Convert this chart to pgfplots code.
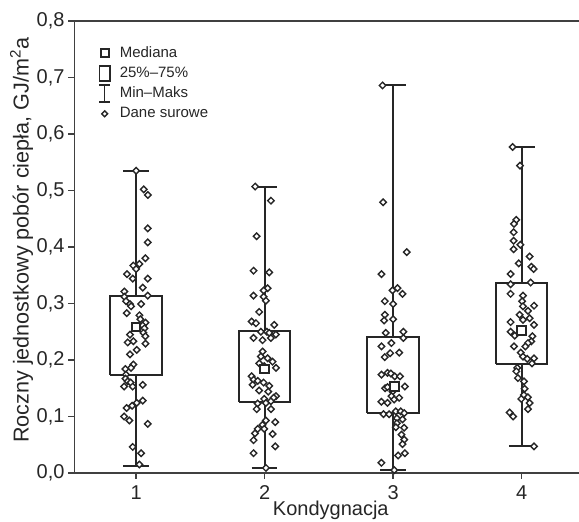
\documentclass[border=0pt]{standalone}
\usepackage{fontspec}
\setmainfont{Liberation Sans}
\usepackage{pgfplots}
\pgfplotsset{compat=1.18}
\definecolor{ink}{HTML}{262626}
\definecolor{axc}{HTML}{404040}
\begin{document}
\begin{tikzpicture}
\begin{axis}[
  name=ax,
  scale only axis,
  width=252.25pt, height=226pt,
  xmin=0.521, xmax=4.446,
  ymin=0, ymax=0.8,
  axis lines*=left,
  axis line style={axc, line width=0.8pt},
  clip=false,
  unbounded coords=jump,
  tick align=outside,
  major tick length=3pt,
  tick style={axc, line width=0.8pt},
  xtick={1,2,3,4},
  xticklabels={1,2,3,4},
  ytick={0,0.1,0.2,0.3,0.4,0.5,0.6,0.7,0.8},
  yticklabel style={xshift=1.5pt, /pgf/number format/.cd, fixed, fixed zerofill, precision=1, use comma, assume math mode=true},
  ticklabel style={font=\fontsize{10}{12}\selectfont, text=ink},
  xlabel={Kondygnacja},
  ylabel={Roczny jednostkowy pobór ciepła, GJ/m\textsuperscript{2}a},
  every axis x label/.style={at={(axis description cs:0.508,-0.0951)}, anchor=base, font=\fontsize{10}{12}\selectfont, text=ink},
  every axis y label/.style={at={(axis description cs:-0.1047,0.515)}, anchor=center, rotate=90, font=\fontsize{10.8}{13}\selectfont, text=ink},
  legend style={at={(axis description cs:0.035,0.958)}, anchor=north west, draw=none, fill=none, font=\fontsize{7.5}{9}\selectfont, row sep=1pt, column sep=3.5pt, text=ink, nodes={inner sep=1pt, text height=5.5pt, text depth=1.5pt}},
  legend cell align=left,
]
\addlegendimage{legend image code/.code={\draw[ink,line width=1pt,fill=white] (0.65pt,-2pt) rectangle (4.65pt,2pt);}}
\addlegendentry{Mediana}
\addlegendimage{legend image code/.code={\draw[ink,line width=0.8pt] (0pt,-3.7pt) rectangle (5.3pt,3.7pt);}}
\addlegendentry{25\%–75\%}
\addlegendimage{legend image code/.code={\draw[ink,line width=0.8pt] (2.65pt,-4.2pt) -- (2.65pt,4.2pt) (0pt,-4.2pt) -- (5.3pt,-4.2pt) (0pt,4.2pt)--(5.3pt,4.2pt);}}
\addlegendentry{Min–Maks}
\addlegendimage{legend image code/.code={\draw[ink,line width=0.7pt,fill=white] (2.65pt,1.45pt) -- (4.1pt,0pt) -- (2.65pt,-1.45pt) -- (1.2pt,0pt) -- cycle;}}
\addlegendentry{Dane surowe}

% boxes (quartiles) and whiskers (min-max)
\pgfplotsset{bx/.style={ink, line width=1pt, forget plot, mark=none, line join=miter}}
\addplot[bx] coordinates {(0.8,0.174)(1.2,0.174)(1.2,0.314)(0.8,0.314)(0.8,0.174)};
\addplot[bx] coordinates {(1,0.314)(1,0.535) (1,nan) (0.9,0.535)(1.1,0.535) (1,nan) (1,0.174)(1,0.013) (1,nan) (0.9,0.013)(1.1,0.013)};
\addplot[bx] coordinates {(1.8,0.125)(2.2,0.125)(2.2,0.252)(1.8,0.252)(1.8,0.125)};
\addplot[bx] coordinates {(2,0.252)(2,0.507) (2,nan) (1.9,0.507)(2.1,0.507) (2,nan) (2,0.125)(2,0.009) (2,nan) (1.9,0.009)(2.1,0.009)};
\addplot[bx] coordinates {(2.8,0.107)(3.2,0.107)(3.2,0.2405)(2.8,0.2405)(2.8,0.107)};
\addplot[bx] coordinates {(3,0.2405)(3,0.686) (3,nan) (2.9,0.686)(3.1,0.686) (3,nan) (3,0.107)(3,0.005) (3,nan) (2.9,0.005)(3.1,0.005)};
\addplot[bx] coordinates {(3.8,0.193)(4.2,0.193)(4.2,0.337)(3.8,0.337)(3.8,0.193)};
\addplot[bx] coordinates {(4,0.337)(4,0.577) (4,nan) (3.9,0.577)(4.1,0.577) (4,nan) (4,0.193)(4,0.047) (4,nan) (3.9,0.047)(4.1,0.047)};

% raw data
\pgfplotsset{raw/.style={only marks, forget plot, mark=square*, mark size=1.15pt, mark options={rotate=45, fill=white, draw=ink, line width=0.7pt}}}
\addplot[raw] coordinates {
(1.000,0.535)(1.060,0.502)(1.091,0.492)(1.091,0.433)(1.091,0.408)(1.073,0.380)(1.026,0.370)(0.979,0.367)(1.000,0.361)(0.930,0.352)
(0.974,0.344)(1.091,0.344)(1.052,0.328)(0.909,0.321)(1.091,0.314)(0.909,0.312)(0.922,0.304)(0.953,0.299)(1.039,0.299)(0.961,0.295)
(0.927,0.283)(1.026,0.279)(1.034,0.272)(1.073,0.266)(1.052,0.261)(1.065,0.256)(0.953,0.245)(1.057,0.248)(1.073,0.242)(1.073,0.229)
(0.935,0.231)(0.979,0.233)(1.005,0.218)(0.953,0.210)(0.979,0.192)(0.961,0.186)(0.917,0.184)(0.922,0.174)(0.917,0.167)(0.935,0.162)
(0.958,0.160)(0.907,0.153)(0.974,0.153)(1.052,0.156)(1.052,0.128)(1.005,0.124)(0.969,0.119)(0.927,0.115)(0.907,0.100)(0.948,0.093)
(1.091,0.087)(0.974,0.046)(1.039,0.035)(1.026,0.015)
};
\addplot[raw] coordinates {
(1.927,0.507)(2.049,0.482)(1.938,0.419)(1.914,0.358)(2.036,0.355)(2.023,0.327)(1.992,0.323)(1.914,0.314)(1.992,0.312)(2.010,0.305)
(1.958,0.285)(1.899,0.268)(1.933,0.265)(2.075,0.262)(1.971,0.250)(2.018,0.250)(2.036,0.248)(2.088,0.245)(2.049,0.239)(1.914,0.239)
(1.984,0.235)(1.984,0.215)(1.971,0.206)(2.023,0.203)(1.958,0.194)(2.062,0.197)(2.088,0.186)(1.997,0.189)(1.899,0.171)(1.914,0.165)
(1.946,0.163)(1.992,0.160)(2.036,0.154)(1.907,0.156)(1.958,0.146)(2.029,0.144)(2.088,0.136)(2.070,0.133)(1.997,0.131)(2.049,0.127)
(1.946,0.123)(1.938,0.113)(2.010,0.124)(2.049,0.113)(2.010,0.093)(1.984,0.085)(2.083,0.090)(1.946,0.078)(1.925,0.070)(1.997,0.078)
(1.914,0.058)(2.062,0.069)(2.083,0.047)(1.914,0.035)(2.010,0.009)
};
\addplot[raw] coordinates {
(2.918,0.686)(2.922,0.479)(3.106,0.391)(2.909,0.352)(2.995,0.323)(3.034,0.327)(3.073,0.317)(2.935,0.304)(3.000,0.299)(2.935,0.280)
(2.930,0.270)(3.000,0.272)(2.943,0.248)(3.080,0.250)(3.080,0.239)(2.909,0.224)(2.987,0.230)(2.935,0.205)(2.977,0.212)(3.047,0.213)
(2.909,0.174)(2.956,0.177)(2.982,0.176)(3.013,0.171)(3.054,0.171)(2.938,0.150)(2.956,0.152)(2.995,0.144)(3.091,0.153)(3.047,0.133)
(2.909,0.126)(2.956,0.124)(2.987,0.136)(3.008,0.130)(2.925,0.104)(2.969,0.104)(3.021,0.109)(3.060,0.109)(3.086,0.106)(3.029,0.097)
(3.073,0.095)(3.029,0.088)(3.086,0.080)(3.021,0.081)(3.065,0.068)(3.086,0.059)(3.073,0.051)(3.039,0.031)(3.091,0.035)(2.909,0.018)
(3.008,0.005)
};
\addplot[raw] coordinates {
(3.930,0.577)(3.987,0.544)(3.958,0.448)(3.940,0.441)(3.938,0.426)(3.938,0.411)(3.990,0.404)(3.938,0.396)(3.977,0.371)(4.062,0.383)
(4.075,0.365)(4.093,0.361)(3.914,0.352)(3.914,0.334)(4.070,0.337)(3.914,0.317)(4.010,0.314)(4.003,0.304)(4.096,0.296)(4.010,0.295)
(4.049,0.287)(3.984,0.280)(4.010,0.271)(4.062,0.274)(3.914,0.267)(4.096,0.262)(3.914,0.250)(3.946,0.243)(4.083,0.242)(4.075,0.233)
(4.049,0.230)(4.029,0.224)(3.940,0.224)(3.992,0.213)(4.010,0.206)(4.044,0.202)(4.096,0.203)(4.080,0.194)(3.966,0.186)(3.958,0.180)
(3.971,0.168)(4.018,0.162)(4.023,0.149)(4.018,0.138)(4.049,0.134)(3.997,0.131)(4.062,0.124)(4.049,0.113)(3.907,0.107)(3.933,0.100)
(4.096,0.047)
};

% medians
\addplot[only marks, forget plot, mark=square*, mark size=2.1pt, mark options={fill=white, draw=ink, line width=1pt}] coordinates {(1,0.258)(2,0.184)(3.01,0.153)(4,0.252)};

\draw[axc, line width=0.8pt] (rel axis cs:0,1) -- (rel axis cs:1,1);
\end{axis}
\pgfresetboundingbox
\path[use as bounding box] ([shift={(-37.25pt,-24.5pt)}]ax.south west) rectangle ([shift={(0pt,10.5pt)}]ax.north east);
\end{tikzpicture}
\end{document}
